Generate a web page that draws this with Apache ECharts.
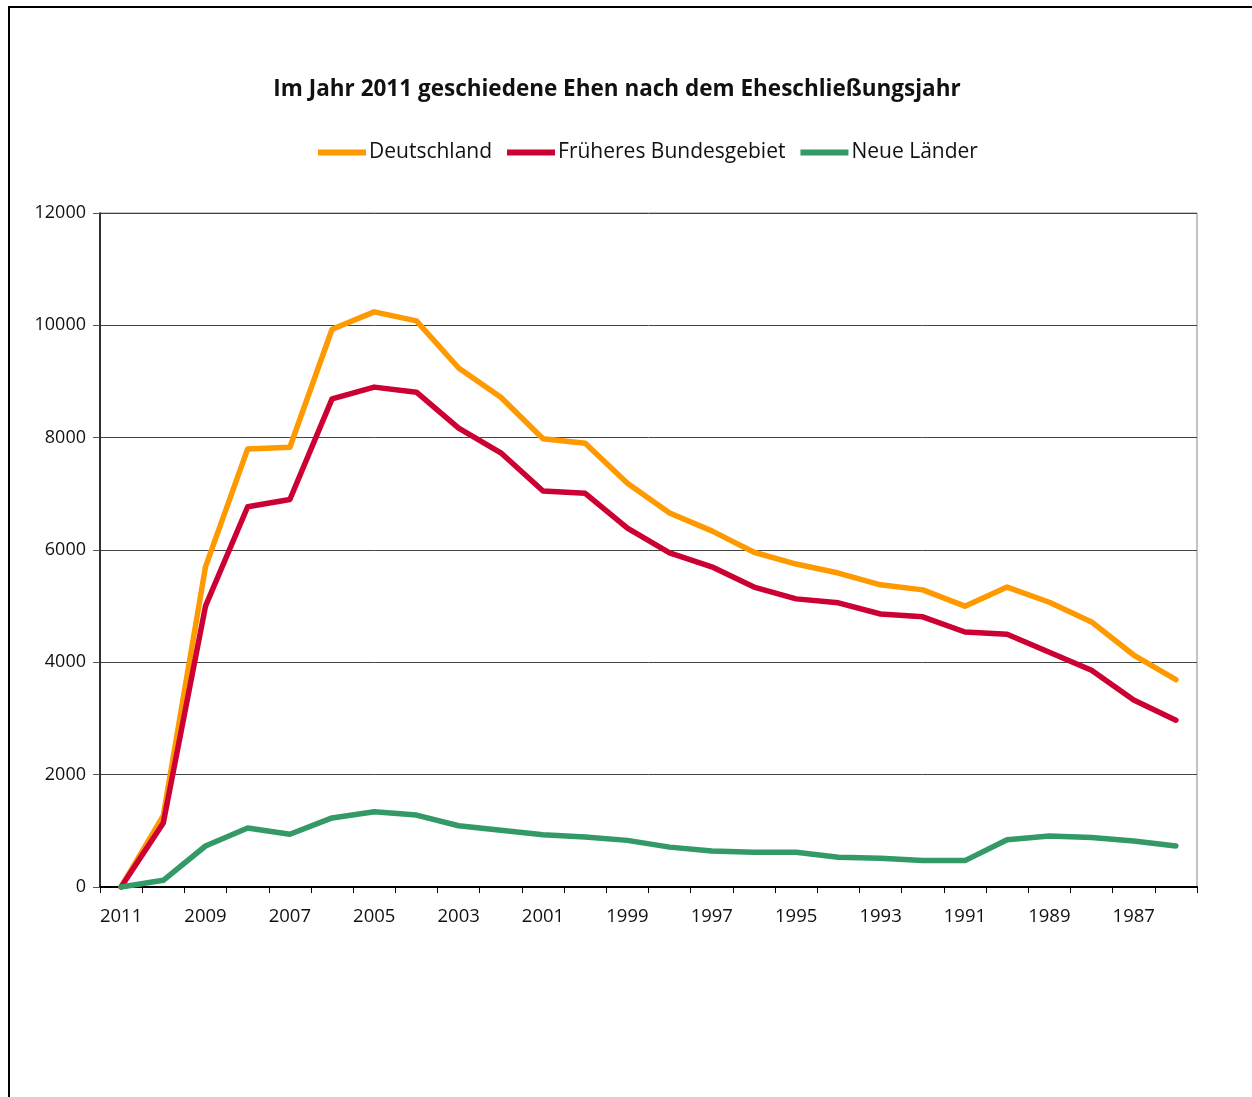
<!DOCTYPE html>
<html>
<head>
<meta charset="utf-8">
<script src="https://cdn.jsdelivr.net/npm/echarts@6/dist/echarts.min.js"></script>
<style>
  html, body { margin: 0; padding: 0; background: #fff; }
  #myCharts { width: 1252px; height: 1097px; }
</style>
</head>
<body>
<div id="myCharts"></div>
<script>
// Eheschließungsjahr (x-Achse, absteigend)
const years = ["2011","2010","2009","2008","2007","2006","2005","2004","2003","2002","2001","2000","1999",
  "1998","1997","1996","1995","1994","1993","1992","1991","1990","1989","1988","1987","1986"];

// Werte je Gebiet
const deutschland = [0,1270,5700,7800,7830,9930,10240,10080,9240,8720,7980,7900,7190,
  6660,6340,5960,5750,5590,5380,5290,5000,5340,5070,4720,4130,3690];
const fruehBund = [0,1140,5000,6770,6900,8690,8900,8810,8170,7730,7050,7010,6390,
  5950,5700,5340,5130,5060,4860,4810,4540,4500,4180,3860,3330,2970];
const neueLaender = [0,120,730,1050,940,1230,1340,1280,1090,1010,930,890,830,
  710,640,620,620,530,510,470,470,840,910,880,820,730];

const yTicks = [0, 2000, 4000, 6000, 8000, 10000, 12000];

const fontFam = "'Open Sans', 'Noto Sans', sans-serif";

let myCharts = echarts.init(document.getElementById("myCharts"));

function lineSeries(name, data, color) {
  return {
    name: name,
    type: "line",
    data: data,
    showSymbol: false,
    symbol: "none",
    lineStyle: { color: color, width: 5.5, cap: "round", join: "round" },
    itemStyle: { color: color },
  };
}

let option = {
  backgroundColor: "#fff",
  animation: false,
  // 标题
  title: {
    text: "Im Jahr 2011 geschiedene Ehen nach dem Eheschließungsjahr",
    left: 612,
    top: 73,
    textAlign: "center",
    textStyle: { fontFamily: fontFam, fontSize: 22.5, fontWeight: "bold", color: "#111" },
  },
  // 图例
  legend: {
    data: ["Deutschland", "Früheres Bundesgebiet", "Neue Länder"],
    left: 313,
    top: 137,
    icon: "rect",
    itemWidth: 48,
    itemHeight: 6,
    itemGap: 15,
    textStyle: { fontFamily: fontFam, fontSize: 21, color: "#111", padding: [0, 0, 0, -2] },
  },
  grid: {
    left: 100,
    top: 213,
    width: 1097,
    height: 674,
    show: true,
    borderColor: "#888",
    borderWidth: 1,
  },
  xAxis: {
    type: "category",
    data: years,
    boundaryGap: true,
    axisLine: { lineStyle: { color: "#000", width: 2 } },
    axisTick: { show: true, interval: 0, length: 6, lineStyle: { color: "#000", width: 1 } },
    axisLabel: {
      interval: 1,
      margin: 20,
      fontFamily: fontFam,
      fontSize: 18.5,
      color: "#111",
    },
  },
  yAxis: {
    type: "value",
    min: yTicks[0],
    max: yTicks[yTicks.length - 1],
    interval: 2000,
    axisLine: { show: true, lineStyle: { color: "#000", width: 1.5 } },
    axisTick: { show: true, length: 7, lineStyle: { color: "#555" } },
    axisLabel: {
      margin: 14,
      fontFamily: fontFam,
      fontSize: 18,
      color: "#111",
      formatter: (v) => String(v),
    },
    splitLine: { show: true, lineStyle: { color: "#444", width: 1 } },
  },
  series: [
    lineSeries("Deutschland", deutschland, "#FF9900"),
    lineSeries("Früheres Bundesgebiet", fruehBund, "#CC0033"),
    lineSeries("Neue Länder", neueLaender, "#339966"),
  ],
  // 外框
  graphic: [
    { type: "line", shape: { x1: 8, y1: 7, x2: 1252, y2: 7 }, style: { stroke: "#000", lineWidth: 2 } },
    { type: "line", shape: { x1: 9, y1: 6, x2: 9, y2: 1097 }, style: { stroke: "#000", lineWidth: 2 } },
  ],
};

myCharts.setOption(option);
</script>
</body>
</html>
